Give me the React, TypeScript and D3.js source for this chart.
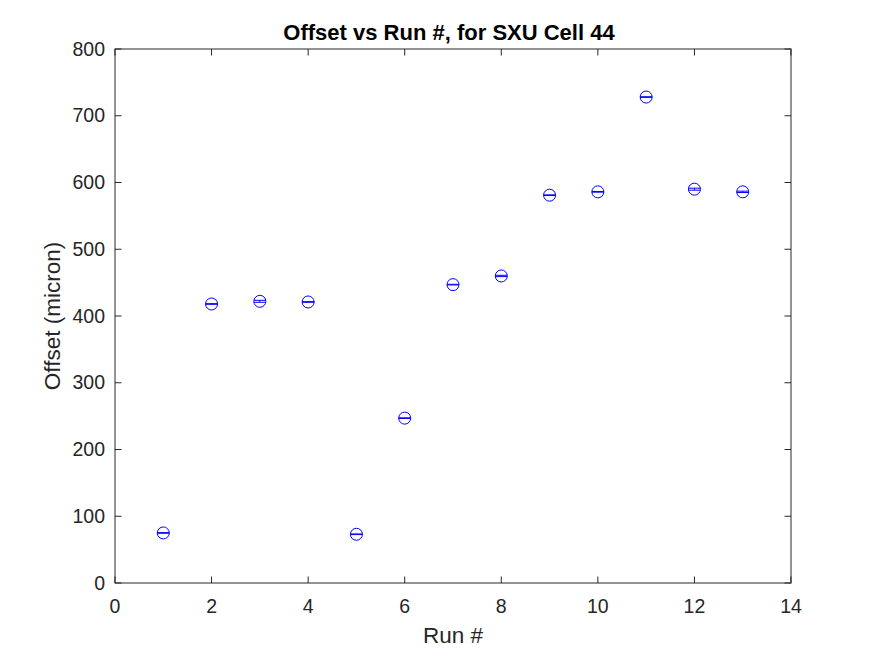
import React from "react";
import * as d3 from "d3";

const runs = [1, 2, 3, 4, 5, 6, 7, 8, 9, 10, 11, 12, 13];
const offsets = [75, 418, 422, 421, 73, 247, 447, 460, 581, 586, 728, 590, 586];
const errors = [0.5, 0.5, 1.5, 0.5, 0.5, 0.5, 0.5, 1, 0.5, 0.5, 0.5, 1.5, 1];
const xTicks = [0, 2, 4, 6, 8, 10, 12, 14];
const yTicks = [0, 100, 200, 300, 400, 500, 600, 700, 800];

const W = 875, H = 656;
const L = 115, R = 791, T = 49, B = 583;

export default function App() {
  const x = d3.scaleLinear().domain([0, 14]).range([L, R]);
  const y = d3.scaleLinear().domain([0, 800]).range([B, T]);
  const font = "'Liberation Sans', Arial, Helvetica, sans-serif";
  const ax = "#262626";
  const tl = 6.5;
  const r = 6;
  return (
    <svg width={W} height={H} style={{ position: "absolute", left: 0, top: 0, background: "#fff" }}>
      <rect x={0} y={0} width={W} height={H} fill="#fff" />
      <rect x={L} y={T} width={R - L} height={B - T} fill="#fff" stroke={ax} strokeWidth={1} />
      {xTicks.map((t) => (
        <g key={"x" + t}>
          <line x1={x(t)} x2={x(t)} y1={B} y2={B - tl} stroke={ax} />
          <line x1={x(t)} x2={x(t)} y1={T} y2={T + tl} stroke={ax} />
          <text x={x(t)} y={B + 30} textAnchor="middle" fontFamily={font} fontSize={19.5} fill={ax}>{t}</text>
        </g>
      ))}
      {yTicks.map((t) => (
        <g key={"y" + t}>
          <line x1={L} x2={L + tl} y1={y(t)} y2={y(t)} stroke={ax} />
          <line x1={R} x2={R - tl} y1={y(t)} y2={y(t)} stroke={ax} />
          <text x={L - 10} y={y(t) + 6.5} textAnchor="end" fontFamily={font} fontSize={19.5} fill={ax}>{t}</text>
        </g>
      ))}
      {runs.map((rn, i) => {
        const cx = x(rn), cy = y(offsets[i]);
        const e = errors[i];
        return (
          <g key={"p" + rn} stroke="#0000ff" fill="none" strokeWidth={1}>
            <line x1={cx} x2={cx} y1={y(offsets[i] - e)} y2={y(offsets[i] + e)} />
            <line x1={cx - r} x2={cx + r} y1={y(offsets[i] - e)} y2={y(offsets[i] - e)} />
            <line x1={cx - r} x2={cx + r} y1={y(offsets[i] + e)} y2={y(offsets[i] + e)} />
            <circle cx={cx} cy={cy} r={r} />
          </g>
        );
      })}
      <text x={(L + R) / 2 - 4} y={40} textAnchor="middle" fontFamily={font} fontSize={22} fontWeight="bold" fill="#000">
        Offset vs Run #, for SXU Cell 44
      </text>
      <text x={(L + R) / 2} y={643} textAnchor="middle" fontFamily={font} fontSize={22.5} fill={ax}>Run #</text>
      <text transform={`translate(60, ${(T + B) / 2}) rotate(-90)`} textAnchor="middle" fontFamily={font} fontSize={22.5} fill={ax}>
        Offset (micron)
      </text>
    </svg>
  );
}
